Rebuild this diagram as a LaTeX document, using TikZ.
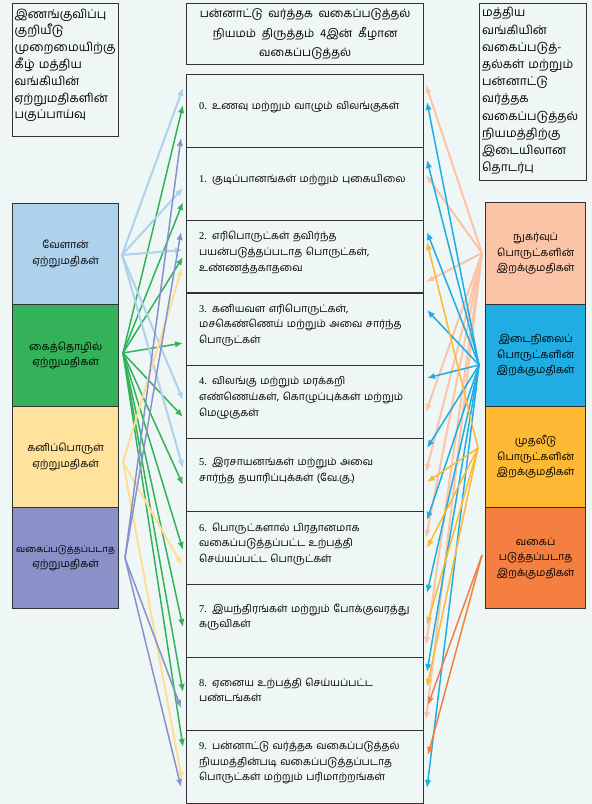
\documentclass[tikz,border=0pt]{standalone}
\usepackage{fontspec}
\setmainfont{Hind Madurai}[Script=Tamil,WordSpace=2]
\newfontfamily\dg{Liberation Serif}
\usetikzlibrary{arrows.meta}
\definecolor{bg}{HTML}{EEF7F6}
\definecolor{bd}{HTML}{333333}
\definecolor{cLB}{HTML}{AFD2EC}
\definecolor{cG}{HTML}{34B25A}
\definecolor{cY}{HTML}{FFE39C}
\definecolor{cP}{HTML}{8A90C8}
\definecolor{cPe}{HTML}{FBC4A6}
\definecolor{cC}{HTML}{1FADE3}
\definecolor{cGo}{HTML}{FDB933}
\definecolor{cO}{HTML}{F47F41}
\tikzset{
  box/.style={draw=bd, line width=1.3pt, anchor=north west, inner sep=0pt},
  side/.style={box, minimum width=#1, align=center, font=\fontsize{10.5}{15.5}\selectfont},
  mtext/.style={anchor=west, inner sep=0pt, text width=224pt, align=left, font=\fontsize{10.4}{15.7}\selectfont},
  arr/.style={-{Latex[length=8pt,width=6.5pt]}, line width=1.5pt},
  aLB/.style={arr, draw=cLB, line width=2pt},
  aG/.style={arr, draw=cG},
  aY/.style={arr, draw=cY!95!orange, line width=2pt},
  aP/.style={arr, draw=cP},
  aPe/.style={arr, draw=cPe, line width=2pt},
  aC/.style={arr, draw=cC},
  aGo/.style={arr, draw=cGo},
  aO/.style={arr, draw=cO},
}
\begin{document}
\begin{tikzpicture}[x=1pt,y=-1pt]
\fill[bg] (0,0) rectangle (592,804);
\useasboundingbox (0,0) rectangle (592,804);

% top boxes
\node[box, minimum width=106pt, minimum height=133pt] (tl) at (12,3) {};
\node[anchor=north west, inner sep=0pt, text width=104pt, align=left,
      font=\fontsize{12}{16.8}\selectfont] (tlt) at (14.5,8.5)
  {இணங்குவிப்பு\\குறியீடு\\முறைமையிற்கு\\கீழ் மத்திய\\வங்கியின்\\ஏற்றுமதிகளின்\\பகுப்பாய்வு};

\node[box, minimum width=237pt, minimum height=61pt] (title) at (186,3) {};
\node[align=center, inner sep=0pt, font=\fontsize{11.5}{19.5}\selectfont] (titlet) at (title.center)
  {பன்னாட்டு வர்த்தக வகைப்படுத்தல்\\நியமம் திருத்தம் 4இன் கீழான\\வகைப்படுத்தல்};

\node[box, minimum width=107pt, minimum height=177pt] (tr) at (479,3) {};
\node[anchor=west, inner sep=0pt, text width=104pt, align=left,
      font=\fontsize{12}{17.2}\selectfont] (trt) at (482,91)
  {மத்திய\\வங்கியின்\\வகைப்படுத்-\\தல்கள் மற்றும்\\பன்னாட்டு\\வர்த்தக\\வகைப்படுத்தல்\\நியமத்திற்கு\\இடையிலான\\தொடர்பு};

% left boxes
\node[side=106pt, minimum height=101pt, fill=cLB] (lb) at (12,203) {வேளான்\\ஏற்றுமதிகள்};
\node[side=106pt, minimum height=102pt, fill=cG] (lg) at (12,304) {கைத்தொழில்\\ஏற்றுமதிகள்};
\node[side=106pt, minimum height=101pt, fill=cY] (ly) at (12,406) {கனிப்பொருள்\\ஏற்றுமதிகள்};
\node[side=106pt, minimum height=101pt, fill=cP] (lp) at (12,507) {{\fontsize{9.2}{15.5}\selectfont வகைப்படுத்தப்படாத}\\ஏற்றுமதிகள்};

% right boxes
\node[side=100pt, minimum height=102pt, fill=cPe] (rpe) at (485,202) {நுகர்வுப்\\பொருட்களின்\\இறக்குமதிகள்};
\node[side=100pt, minimum height=102pt, fill=cC] (rc) at (485,304) {இடைநிலைப்\\பொருட்களின்\\இறக்குமதிகள்};
\node[side=100pt, minimum height=101pt, fill=cGo] (rgo) at (485,406) {முதலீடு\\பொருட்களின்\\இறக்குமதிகள்};
\node[side=100pt, minimum height=101pt, fill=cO] (ro) at (485,507) {வகைப்\\படுத்தப்படாத\\இறக்குமதிகள்};

% middle boxes
\foreach \i/\t in {0/74,1/147,2/220,3/292,4/365,5/438,6/511,7/584,8/657,9/730}
  \node[box, minimum width=237pt, minimum height=73pt] (m\i) at (186,\t) {};

\node[mtext] (m0t) at (199,107) {{\dg 0.} உணவு மற்றும் வாழும் விலங்குகள்};
\node[mtext] (m1t) at (199,180) {{\dg 1.} குடிப்பானங்கள் மற்றும் புகையிலை};
\node[mtext] (m2t) at (199,252.5) {{\dg 2.} எரிபொருட்கள் தவிர்ந்த\\பயன்படுத்தப்படாத பொருட்கள்,\\உண்ணத்தகாதவை};
\node[mtext] (m3t) at (199,325) {{\dg 3.} கனியவள எரிபொருட்கள்,\\மசகெண்ணெய் மற்றும் அவை சார்ந்த\\பொருட்கள்};
\node[mtext] (m4t) at (199,398) {{\dg 4.} விலங்கு மற்றும் மரக்கறி\\எண்ணெய்கள், கொழுப்புக்கள் மற்றும்\\மெழுகுகள்};
\node[mtext] (m5t) at (199,471) {{\dg 5.} இரசாயனங்கள் மற்றும் அவை\\சார்ந்த தயாரிப்புக்கள் (வே.கு.)};
\node[mtext] (m6t) at (199,544) {{\dg 6.} பொருட்களால் பிரதானமாக\\வகைப்படுத்தப்பட்ட உற்பத்தி\\செய்யப்பட்ட பொருட்கள்};
\node[mtext] (m7t) at (199,617) {{\dg 7.} இயந்திரங்கள் மற்றும் போக்குவரத்து\\கருவிகள்};
\node[mtext] (m8t) at (199,690) {{\dg 8.} ஏனைய உற்பத்தி செய்யப்பட்ட\\பண்டங்கள்};
\node[mtext] (m9t) at (199,763) {{\dg 9.} பன்னாட்டு வர்த்தக வகைப்படுத்தல்\\நியமத்தின்படி வகைப்படுத்தப்படாத\\பொருட்கள் மற்றும் பரிமாற்றங்கள்};

% sources
\coordinate (sB) at (122,255);
\coordinate (sG) at (123,353);
\coordinate (sY) at (123,462);
\coordinate (sP) at (125,558);
\coordinate (sPe) at (482,253);
\coordinate (sC) at (479,365);
\coordinate (sGo) at (478,448);
\coordinate (sO) at (482,555);

% left arrows
\foreach \y [count=\k] in {105,202,257,343,417,485,550,627,692,747}
  {\coordinate (tG\k) at (183,\y); \draw[aG] (sG) -- (tG\k);}
\foreach \y [count=\k] in {88,188,250,400,468}
  {\coordinate (tB\k) at (183,\y); \draw[aLB] (sB) -- (tB\k);}
\foreach \y [count=\k] in {268,565,780}
  {\coordinate (tY\k) at (182,\y); \draw[aY] (sY) -- (tY\k);}
\foreach \y [count=\k] in {138,232,708,787}
  {\coordinate (tP\k) at (181,\y); \draw[aP] (sP) -- (tP\k);}

% right arrows
\foreach \y [count=\k] in {85,175,282,412,472,538,645,720}
  {\coordinate (tPe\k) at (426,\y); \draw[aPe] (sPe) -- (tPe\k);}
\foreach \y [count=\k] in {102,160,232,310,378,448,520,593,672,788}
  {\coordinate (tC\k) at (427,\y); \draw[aC] (sC) -- (tC\k);}
\foreach \y [count=\k] in {242,482,548,625,687}
  {\coordinate (tGo\k) at (427,\y); \draw[aGo] (sGo) -- (tGo\k);}
\foreach \y [count=\k] in {705,755}
  {\coordinate (tO\k) at (428,\y); \draw[aO] (sO) -- (tO\k);}
\end{tikzpicture}
\end{document}
